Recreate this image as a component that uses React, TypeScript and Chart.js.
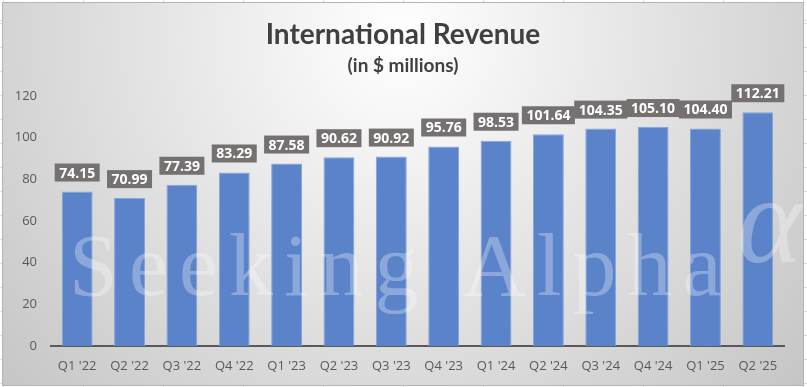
import React, { useEffect, useRef } from "react";
import { Chart, registerables } from "chart.js";

Chart.register(...registerables);

const categories = ["Q1 '22", "Q2 '22", "Q3 '22", "Q4 '22", "Q1 '23", "Q2 '23", "Q3 '23", "Q4 '23", "Q1 '24", "Q2 '24", "Q3 '24", "Q4 '24", "Q1 '25", "Q2 '25"];
const revenue = [74.15, 70.99, 77.39, 83.29, 87.58, 90.62, 90.92, 95.76, 98.53, 101.64, 104.35, 105.1, 104.4, 112.21];
const yMin = 0;
const yMax = 120;
const yStep = 20;
const titleText = "International Revenue";
const subtitleText = "(in $ millions)";
const watermarkText = "Seeking Alpha";
const watermarkSymbol = "α";

const decorPlugin = {
  id: "decor",
  afterDatasetsDraw(chart: any) {
    const ctx = chart.ctx as CanvasRenderingContext2D;
    // watermark
    ctx.save();
    ctx.fillStyle = "rgba(255,255,255,0.3)";
    ctx.textAlign = "left";
    ctx.textBaseline = "alphabetic";
    ctx.font = '88px "Liberation Serif"';
    (ctx as any).letterSpacing = "11px";
    ctx.fillText(watermarkText, 66, 292);
    (ctx as any).letterSpacing = "0px";
    ctx.font = 'italic 124px "Liberation Serif"';
    ctx.fillText(watermarkSymbol, 734, 259);
    ctx.restore();

    // data labels
    const meta = chart.getDatasetMeta(0);
    ctx.save();
    ctx.font = 'bold 14px "Open Sans"';
    meta.data.forEach((bar: any, i: number) => {
      const txt = revenue[i].toFixed(2);
      const w = ctx.measureText(txt).width + 9;
      const h = 18;
      const x = bar.x - w / 2;
      const y = bar.y - 10 - h;
      ctx.fillStyle = "#767171";
      ctx.fillRect(x, y, w, h);
      ctx.fillStyle = "#ffffff";
      ctx.textAlign = "center";
      ctx.textBaseline = "middle";
      ctx.fillText(txt, bar.x, y + h / 2 + 1);
    });
    ctx.restore();
  },
  afterDraw(chart: any) {
    const ctx = chart.ctx as CanvasRenderingContext2D;
    ctx.save();
    ctx.fillStyle = "#404040";
    ctx.textAlign = "center";
    ctx.textBaseline = "alphabetic";
    ctx.font = 'bold 28px "Lato"';
    ctx.fillText(titleText, 400, 41);
    ctx.font = 'bold 19px "Lato"';
    ctx.fillText(subtitleText, 400, 69);
    ctx.restore();
  },
};

export default function App() {
  const canvasRef = useRef<HTMLCanvasElement | null>(null);

  useEffect(() => {
    document.body.style.margin = "0";
    const canvas = canvasRef.current;
    if (!canvas) return;
    const chart = new Chart(canvas, {
      type: "bar",
      data: {
        labels: categories,
        datasets: [
          {
            data: revenue,
            backgroundColor: "#5B83CA",
            borderColor: "#86A3DA",
            borderWidth: 1,
            barPercentage: 0.59,
            categoryPercentage: 1,
          },
        ],
      },
      options: {
        animation: false,
        responsive: false,
        devicePixelRatio: 1,
        layout: { padding: { top: 93, right: 19, bottom: 0, left: 0 } },
        plugins: {
          legend: { display: false },
          title: { display: false },
          tooltip: { enabled: false },
        },
        scales: {
          x: {
            grid: { display: false, drawTicks: false },
            border: { display: true, color: "#595959", width: 2 },
            ticks: {
              color: "#595959",
              font: { family: "Open Sans", size: 13 },
              padding: 12,
              maxRotation: 0,
              autoSkip: false,
            },
            afterFit(scale: any) {
              scale.height = 39;
            },
          },
          y: {
            min: yMin,
            max: yMax,
            grid: { display: false, drawTicks: false },
            border: { display: false },
            ticks: {
              stepSize: yStep,
              color: "#595959",
              font: { family: "Open Sans", size: 13 },
              padding: 14,
            },
            afterFit(scale: any) {
              scale.width = 48;
            },
          },
        },
      },
      plugins: [decorPlugin],
    });
    return () => chart.destroy();
  }, []);

  return (
    <div
      style={{
        position: "fixed",
        left: 0,
        top: 0,
        width: 807,
        height: 387,
        background: "#ffffff",
        backgroundImage:
          "repeating-linear-gradient(to right, #dcdcdc 0 1px, transparent 1px 80px), repeating-linear-gradient(to bottom, #dcdcdc 0 1px, transparent 1px 24px)",
        backgroundPosition: "3px 0, 0 23px",
        overflow: "hidden",
      }}
    >
      <div
        style={{
          position: "absolute",
          left: 2,
          top: 2,
          width: 800,
          height: 382,
          border: "1px solid #b4b4b4",
          background: "radial-gradient(circle 560px at 397px 37px, #ffffff 0%, #c2c2c2 100%)",
        }}
      >
        <canvas ref={canvasRef} width={800} height={382} style={{ display: "block" }} />
      </div>
    </div>
  );
}
